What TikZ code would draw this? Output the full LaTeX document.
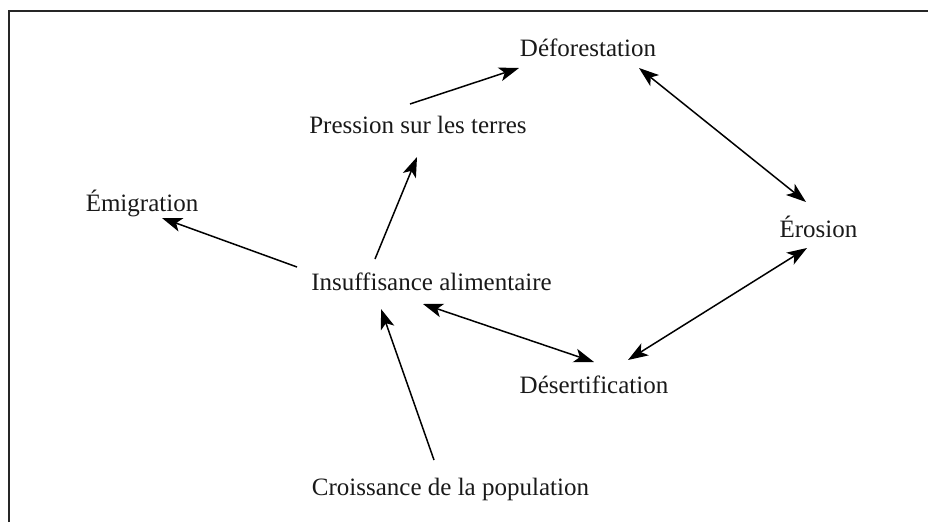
\documentclass[tikz,border=0pt]{standalone}
\usepackage{fontspec}
\setmainfont{Liberation Serif}
\usetikzlibrary{arrows.meta}
\begin{document}
\begin{tikzpicture}[x=1pt,y=-1pt,
  lbl/.style={anchor=base,inner sep=0pt,font=\fontsize{25}{30}\selectfont,text=black!90},
  tipshape/.style={},
  conn/.style={line width=1.5pt,-{Stealth[length=20pt,width=14pt,inset=5pt]}},
  biconn/.style={line width=1.5pt,{Stealth[length=20pt,width=14pt,inset=5pt]}-{Stealth[length=20pt,width=14pt,inset=5pt]}}]
\useasboundingbox (0,0) rectangle (928,522);
\draw[line width=2pt,black!85] (9,522) -- (9,11) -- (928,11);
\node[lbl] (defo) at (588,56) {Déforestation};
\node[lbl] (pres) at (418,133) {Pression sur les terres};
\node[lbl] (emig) at (142,211) {Émigration};
\node[lbl] (ins) at (431.5,290) {Insuffisance alimentaire};
\node[lbl] (ero) at (818.5,237) {Érosion};
\node[lbl] (dese) at (594,393) {Désertification};
\node[lbl] (crois) at (450.5,495) {Croissance de la population};
\draw[conn] ([xshift=-8pt,yshift=29pt]pres.base) -- ([xshift=-69pt,yshift=-12pt]defo.base);
\draw[biconn] ([xshift=51pt,yshift=-12pt]defo.base) -- ([xshift=-12.5pt,yshift=35pt]ero.base);
\draw[conn] ([xshift=-56.5pt,yshift=31pt]ins.base) -- ([xshift=-1pt,yshift=-24pt]pres.base);
\draw[conn] ([xshift=-134.5pt,yshift=23pt]ins.base) -- ([xshift=20pt,yshift=-7pt]emig.base);
\draw[biconn] ([xshift=-8.5pt,yshift=-14pt]ins.base) -- ([xshift=0pt,yshift=31pt]dese.base);
\draw[conn] ([xshift=-16.5pt,yshift=35pt]crois.base) -- ([xshift=-50.5pt,yshift=-19pt]ins.base);
\draw[biconn] ([xshift=34pt,yshift=33pt]dese.base) -- ([xshift=-11.5pt,yshift=-11pt]ero.base);
\end{tikzpicture}
\end{document}
